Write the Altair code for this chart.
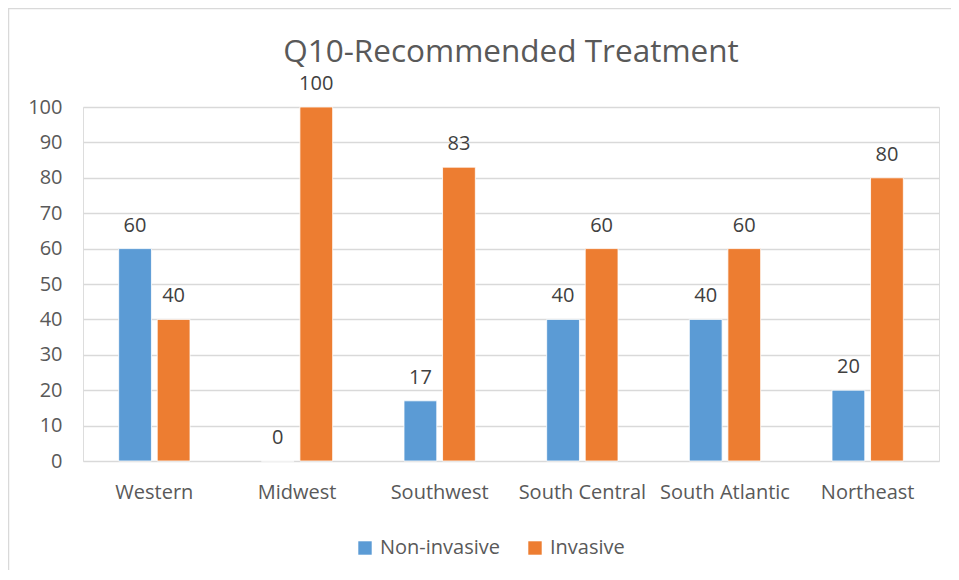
import altair as alt
import pandas as pd

regions = ["Western", "Midwest", "Southwest", "South Central", "South Atlantic", "Northeast"]
series = ["Non-invasive", "Invasive"]
non_invasive = [60, 0, 17, 40, 40, 20]
invasive = [40, 100, 83, 60, 60, 80]
colors = ["#5B9BD5", "#ED7D31"]
y_ticks = list(range(0, 101, 10))

rows = []
for i, r in enumerate(regions):
    rows.append({"Region": r, "Series": series[0], "Value": non_invasive[i]})
    rows.append({"Region": r, "Series": series[1], "Value": invasive[i]})
df = pd.DataFrame(rows)

W, H = 856, 354
PL, PT, PR, PB = 75, 99, 12, 109
FONT = "Open Sans"
FS = 20

x_axis = alt.Axis(labelAngle=0, labelFontSize=FS, labelColor="#595959",
                  labelFont=FONT, labelPadding=21, ticks=False, domain=False,
                  grid=False, labelOverlap=False)
y_axis = alt.Axis(values=y_ticks, labelFontSize=FS, labelColor="#595959",
                  labelFont=FONT, labelPadding=21, ticks=False, domain=False,
                  grid=True, gridColor="#d9d9d9", gridWidth=1.3, labelOverlap=False)
x_scale = alt.Scale(paddingInner=0.5, paddingOuter=0.25)
y_scale = alt.Scale(domain=[0, 100], nice=False)

x_enc = alt.X("Region:N", sort=regions, title=None, scale=x_scale, axis=x_axis)
y_enc = alt.Y("Value:Q", title=None, scale=y_scale, axis=y_axis)
xo_enc = alt.XOffset("Series:N", sort=series,
                     scale=alt.Scale(paddingInner=0.15, paddingOuter=0))

base = alt.Chart(df)

bars = base.mark_bar(stroke="white", strokeWidth=0.8).encode(
    x=x_enc,
    xOffset=xo_enc,
    y=y_enc,
    color=alt.Color("Series:N", sort=series,
                    scale=alt.Scale(domain=series, range=colors),
                    legend=alt.Legend(title=None, orient="none", direction="horizontal",
                                      legendX=272, legendY=431, symbolType="square",
                                      symbolSize=180, symbolStrokeWidth=0,
                                      labelFontSize=FS, labelColor="#595959",
                                      labelFont=FONT, labelOffset=5, columnPadding=24)),
)

labels = base.mark_text(baseline="alphabetic", dy=-17, fontSize=FS,
                        color="#404040", font=FONT).encode(
    x=x_enc,
    xOffset=xo_enc,
    y=y_enc,
    text=alt.Text("Value:Q"),
)

frame_df = pd.DataFrame({"f": [0]})
frame = alt.Chart(frame_df).mark_rect(fill="transparent", stroke="#d9d9d9",
                                      strokeWidth=1.5).encode(
    x=alt.value(-PL + 0.5), x2=alt.value(W + PR + 20),
    y=alt.value(-PT + 0.5), y2=alt.value(H + PB + 20),
)

chart = alt.layer(frame, bars, labels).properties(
    width=W, height=H,
    autosize=alt.AutoSizeParams(type="none"),
    padding={"left": PL, "top": PT, "right": PR, "bottom": PB},
    title=alt.TitleParams("Q10-Recommended Treatment", fontSize=31.5, font=FONT,
                          fontWeight="normal", color="#595959", anchor="middle",
                          baseline="bottom", offset=-93),
).configure_view(stroke=None).configure(background="white")

chart.save("out.html", embed_options={"renderer": "svg", "actions": False})
